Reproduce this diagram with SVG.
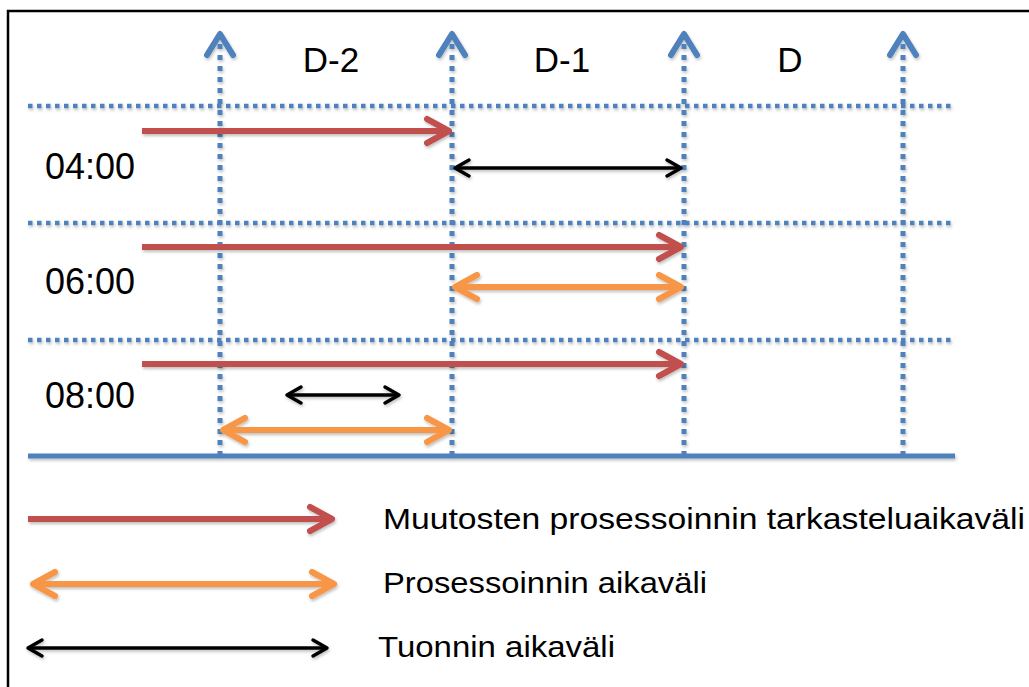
<svg xmlns="http://www.w3.org/2000/svg" width="1029" height="687" viewBox="0 0 1029 687">
  <style>
    .grid-v { stroke: #4F81BD; stroke-width: 5; stroke-dasharray: 5 6; fill: none; }
    .grid-h { stroke: #4F81BD; stroke-width: 4.5; stroke-dasharray: 4.5 4.5; fill: none; }
    .base { stroke: #4F81BD; stroke-width: 5; fill: none; }
    .red { stroke: #C0504D; stroke-width: 6; fill: none; }
    .orange { stroke: #F79646; stroke-width: 6; fill: none; }
    .black { stroke: #000; stroke-width: 3.5; fill: none; }
    .label { font-family: "Liberation Sans", Arial, sans-serif; fill: #000; }
    .col { font-size: 35px; text-anchor: middle; }
    .time { font-size: 36px; }
    .legend { font-size: 30px; }
  </style>
  <defs>
    <filter id="shadow" filterUnits="userSpaceOnUse" x="0" y="0" width="1029" height="687">
      <feDropShadow dx="1" dy="2" stdDeviation="1.5" flood-color="#000" flood-opacity="0.25"/>
    </filter>
    <marker id="head-blue" markerUnits="userSpaceOnUse" viewBox="-30 -16 34 32" refX="0" refY="0" markerWidth="34" markerHeight="32" orient="auto">
      <path d="M-21,-13 L0,0 L-21,13" fill="none" stroke="#4F81BD" stroke-width="6" stroke-linecap="round" stroke-linejoin="round"/>
    </marker>
    <marker id="head-red" markerUnits="userSpaceOnUse" viewBox="-30 -16 34 32" refX="0" refY="0" markerWidth="34" markerHeight="32" orient="auto-start-reverse">
      <path d="M-22,-12 L0,0 L-22,12" fill="none" stroke="#C0504D" stroke-width="6" stroke-linecap="round" stroke-linejoin="round"/>
    </marker>
    <marker id="head-orange" markerUnits="userSpaceOnUse" viewBox="-30 -16 34 32" refX="0" refY="0" markerWidth="34" markerHeight="32" orient="auto-start-reverse">
      <path d="M-22,-12 L0,0 L-22,12" fill="none" stroke="#F79646" stroke-width="6" stroke-linecap="round" stroke-linejoin="round"/>
    </marker>
    <marker id="head-black" markerUnits="userSpaceOnUse" viewBox="-22 -12 26 24" refX="0" refY="0" markerWidth="26" markerHeight="24" orient="auto-start-reverse">
      <path d="M-14,-8 L0,0 L-14,8" fill="none" stroke="#000" stroke-width="3.5" stroke-linecap="round" stroke-linejoin="round"/>
    </marker>
  </defs>

  <rect x="0" y="0" width="1029" height="687" fill="#fff"/>
  <!-- outer frame -->
  <rect x="8" y="11" width="1030" height="690" fill="none" stroke="#000" stroke-width="2.5"/>

  <!-- grid: day columns and hour rows -->
  <g id="grid" filter="url(#shadow)">
    <line class="grid-h" x1="28" y1="106" x2="953" y2="106"/>
    <line class="grid-h" x1="28" y1="223" x2="953" y2="223"/>
    <line class="grid-h" x1="28" y1="340" x2="953" y2="340"/>
    <line class="grid-v" x1="220" y1="456" x2="220" y2="34" marker-end="url(#head-blue)"/>
    <line class="grid-v" x1="452" y1="456" x2="452" y2="34" marker-end="url(#head-blue)"/>
    <line class="grid-v" x1="684" y1="456" x2="684" y2="34" marker-end="url(#head-blue)"/>
    <line class="grid-v" x1="903" y1="456" x2="903" y2="34" marker-end="url(#head-blue)"/>
    <line class="base" x1="28" y1="456" x2="955" y2="456"/>
  </g>

  <!-- column and row labels -->
  <g id="day-labels">
    <text class="label col" x="331" y="72">D-2</text>
    <text class="label col" x="562" y="72">D-1</text>
    <text class="label col" x="790" y="72">D</text>
  </g>
  <g id="hour-labels">
    <text class="label time" x="45" y="179">04:00</text>
    <text class="label time" x="45" y="294">06:00</text>
    <text class="label time" x="45" y="408">08:00</text>
  </g>

  <!-- interval arrows -->
  <g id="connectors" filter="url(#shadow)">
    <line class="red" x1="142" y1="131" x2="449" y2="131" marker-end="url(#head-red)"/>
    <line class="black" x1="455" y1="168" x2="681" y2="168" marker-start="url(#head-black)" marker-end="url(#head-black)"/>
    <line class="red" x1="142" y1="247" x2="681" y2="247" marker-end="url(#head-red)"/>
    <line class="orange" x1="455" y1="287" x2="681" y2="287" marker-start="url(#head-orange)" marker-end="url(#head-orange)"/>
    <line class="red" x1="142" y1="364" x2="681" y2="364" marker-end="url(#head-red)"/>
    <line class="black" x1="287" y1="395" x2="399" y2="395" marker-start="url(#head-black)" marker-end="url(#head-black)"/>
    <line class="orange" x1="223" y1="430" x2="449" y2="430" marker-start="url(#head-orange)" marker-end="url(#head-orange)"/>
  </g>

  <!-- legend -->
  <g id="legend-red">
    <line class="red" x1="28" y1="519" x2="332" y2="519" marker-end="url(#head-red)" filter="url(#shadow)"/>
    <text class="label legend" x="383" y="529" textLength="642" lengthAdjust="spacingAndGlyphs">Muutosten prosessoinnin tarkasteluaikaväli</text>
  </g>
  <g id="legend-orange">
    <line class="orange" x1="33" y1="584" x2="334" y2="584" marker-start="url(#head-orange)" marker-end="url(#head-orange)" filter="url(#shadow)"/>
    <text class="label legend" x="383" y="593" textLength="324" lengthAdjust="spacingAndGlyphs">Prosessoinnin aikaväli</text>
  </g>
  <g id="legend-black">
    <line class="black" x1="28" y1="648" x2="327" y2="648" marker-start="url(#head-black)" marker-end="url(#head-black)" filter="url(#shadow)"/>
    <text class="label legend" x="378" y="657" textLength="237" lengthAdjust="spacingAndGlyphs">Tuonnin aikaväli</text>
  </g>
</svg>
